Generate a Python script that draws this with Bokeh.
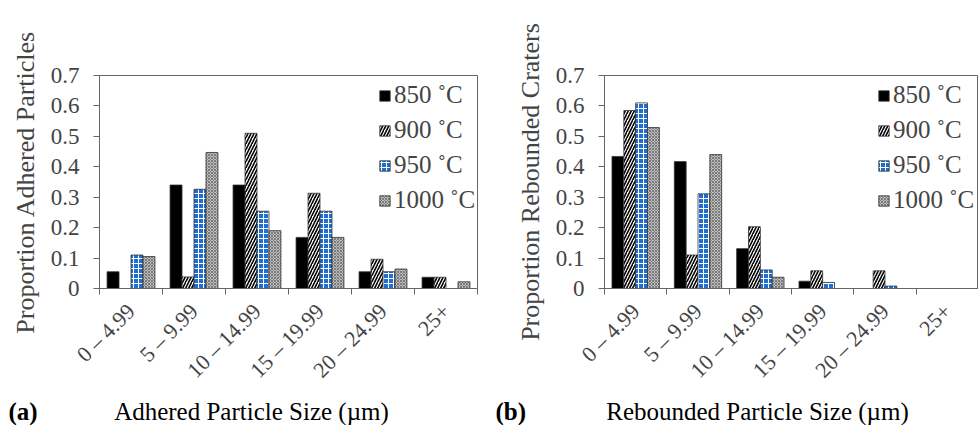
from math import pi
from bokeh.plotting import figure
from bokeh.layouts import row, column
from bokeh.models import (ColumnDataSource, Range1d, FixedTicker, Legend, LegendItem, Label)
from bokeh.transform import dodge
from bokeh.embed import file_html
from bokeh.resources import INLINE

categories = ["0 \u2013 4.99", "5 \u2013 9.99", "10 \u2013 14.99", "15 \u2013 19.99", "20 \u2013 24.99", "25+"]
series = ["850 \u02daC", "900 \u02daC", "950 \u02daC", "1000 \u02daC"]

adhered_850 = [0.055, 0.340, 0.340, 0.168, 0.055, 0.037]
adhered_900 = [0.0, 0.038, 0.510, 0.313, 0.096, 0.037]
adhered_950 = [0.110, 0.326, 0.254, 0.254, 0.055, 0.0]
adhered_1000 = [0.105, 0.447, 0.190, 0.168, 0.064, 0.022]

rebound_850 = [0.434, 0.417, 0.131, 0.024, 0.0, 0.0]
rebound_900 = [0.585, 0.110, 0.203, 0.058, 0.058, 0.0]
rebound_950 = [0.610, 0.311, 0.061, 0.020, 0.008, 0.0]
rebound_1000 = [0.529, 0.440, 0.037, 0.0, 0.0, 0.0]

yticks = [0, 0.1, 0.2, 0.3, 0.4, 0.5, 0.6, 0.7]
ytick_labels = ["0", "0.1", "0.2", "0.3", "0.4", "0.5", "0.6", "0.7"]

titles_a = ["(a)", "Adhered Particle Size (\u00b5m)", "Proportion Adhered Particles"]
titles_b = ["(b)", "Rebounded Particle Size (\u00b5m)", "Proportion Rebounded Craters"]

FONT = "Liberation Serif"
FS = "25px"
TICK_FS = "23px"
XTICK_FS = "22px"
BW = 0.19
OFFS = [-0.285, -0.095, 0.095, 0.285]
STYLES = [
    dict(fill_color="black"),
    dict(fill_color="white", hatch_pattern="/", hatch_color="black", hatch_scale=6, hatch_weight=1.6),
    dict(fill_color="#1f6fd1", hatch_pattern="+", hatch_color="white", hatch_scale=5, hatch_weight=1.0),
    dict(fill_color="#bdbdbd", hatch_pattern="x", hatch_color="#6a6a6a", hatch_scale=3, hatch_weight=0.8),
]
FH = 213
YMAX = 0.7
CHART_H = 394
STRIP_H = 425 - CHART_H


def make_panel(values, ylabel, fw, min_left, min_right, legend_x):
    n = len(categories)
    centers = [i + 0.5 for i in range(n)]
    p = figure(frame_width=fw, frame_height=FH, x_range=Range1d(0, n), y_range=Range1d(0, YMAX),
               output_backend="svg", toolbar_location=None, min_border_left=min_left,
               min_border_right=min_right, min_border_top=75, min_border_bottom=CHART_H - 75 - FH)
    p.xgrid.visible = False
    p.ygrid.visible = False
    p.outline_line_color = "#666666"
    p.background_fill_color = "white"
    p.border_fill_color = "white"
    items = []
    for k, (vals, st) in enumerate(zip(values, STYLES)):
        src = ColumnDataSource(dict(x=centers, top=vals))
        r = p.vbar(x=dodge("x", OFFS[k]), top="top", bottom=0, width=BW, source=src,
                   line_color="#333333", line_width=0.8, **st)
        items.append(LegendItem(label=series[k], renderers=[r]))
    leg = Legend(items=items, location=(legend_x, 74), padding=0, margin=0, spacing=7,
                 glyph_width=13, glyph_height=13, label_standoff=3,
                 label_text_font=FONT, label_text_font_size=FS, label_height=25,
                 border_line_color=None, background_fill_alpha=0)
    p.add_layout(leg, "center")

    xa = p.xaxis[0]
    xa.ticker = FixedTicker(ticks=centers, minor_ticks=list(range(n + 1)))
    xa.major_label_overrides = {c: lab for c, lab in zip(centers, categories)}
    xa.major_label_orientation = pi / 4
    xa.major_label_text_font = FONT
    xa.major_label_text_font_size = XTICK_FS
    xa.major_label_standoff = 13
    xa.major_tick_line_color = None
    xa.major_tick_out = 0
    xa.minor_tick_out = 6
    xa.minor_tick_in = 0
    xa.minor_tick_line_color = "#666666"
    xa.axis_line_color = "#666666"

    ya = p.yaxis[0]
    ya.ticker = FixedTicker(ticks=yticks, minor_ticks=[])
    ya.major_label_overrides = {t: s for t, s in zip(yticks, ytick_labels)}
    ya.major_tick_out = 6
    ya.major_tick_in = 0
    ya.major_tick_line_color = "#666666"
    ya.axis_line_color = "#666666"
    ya.major_label_text_font = FONT
    ya.major_label_text_font_size = TICK_FS
    ya.major_label_standoff = 14
    ya.axis_label = ylabel
    ya.axis_label_text_font = FONT
    ya.axis_label_text_font_size = "26px"
    ya.axis_label_text_font_style = "normal"
    ya.axis_label_standoff = 8
    return p


pa = make_panel([adhered_850, adhered_900, adhered_950, adhered_1000], titles_a[2], 378, 99, 18, 279)
pb = make_panel([rebound_850, rebound_900, rebound_950, rebound_1000], titles_b[2], 374, 109, 0, 273)

# strip beneath the two charts holding the panel tags and the x-axis titles
strip = figure(width=978, height=STRIP_H, x_range=Range1d(0, 978), y_range=Range1d(0, STRIP_H),
               output_backend="svg", toolbar_location=None, min_border=0,
               x_axis_location=None, y_axis_location=None)
strip.xgrid.visible = False
strip.ygrid.visible = False
strip.outline_line_color = None
for x, t, bold, align in [(8, titles_a[0], True, "left"), (251, titles_a[1], False, "center"),
                          (495, titles_b[0], True, "left"), (757, titles_b[1], False, "center")]:
    strip.add_layout(Label(x=x, y=14, text=t, text_font=FONT, text_font_size=FS,
                           text_font_style="bold" if bold else "normal", text_color="black",
                           text_align=align, text_baseline="middle"))
strip.scatter(x=[0], y=[0], size=0, alpha=0)

layout = column(row(pa, pb), strip, spacing=0)
open("out.html", "w").write(file_html(layout, INLINE))
